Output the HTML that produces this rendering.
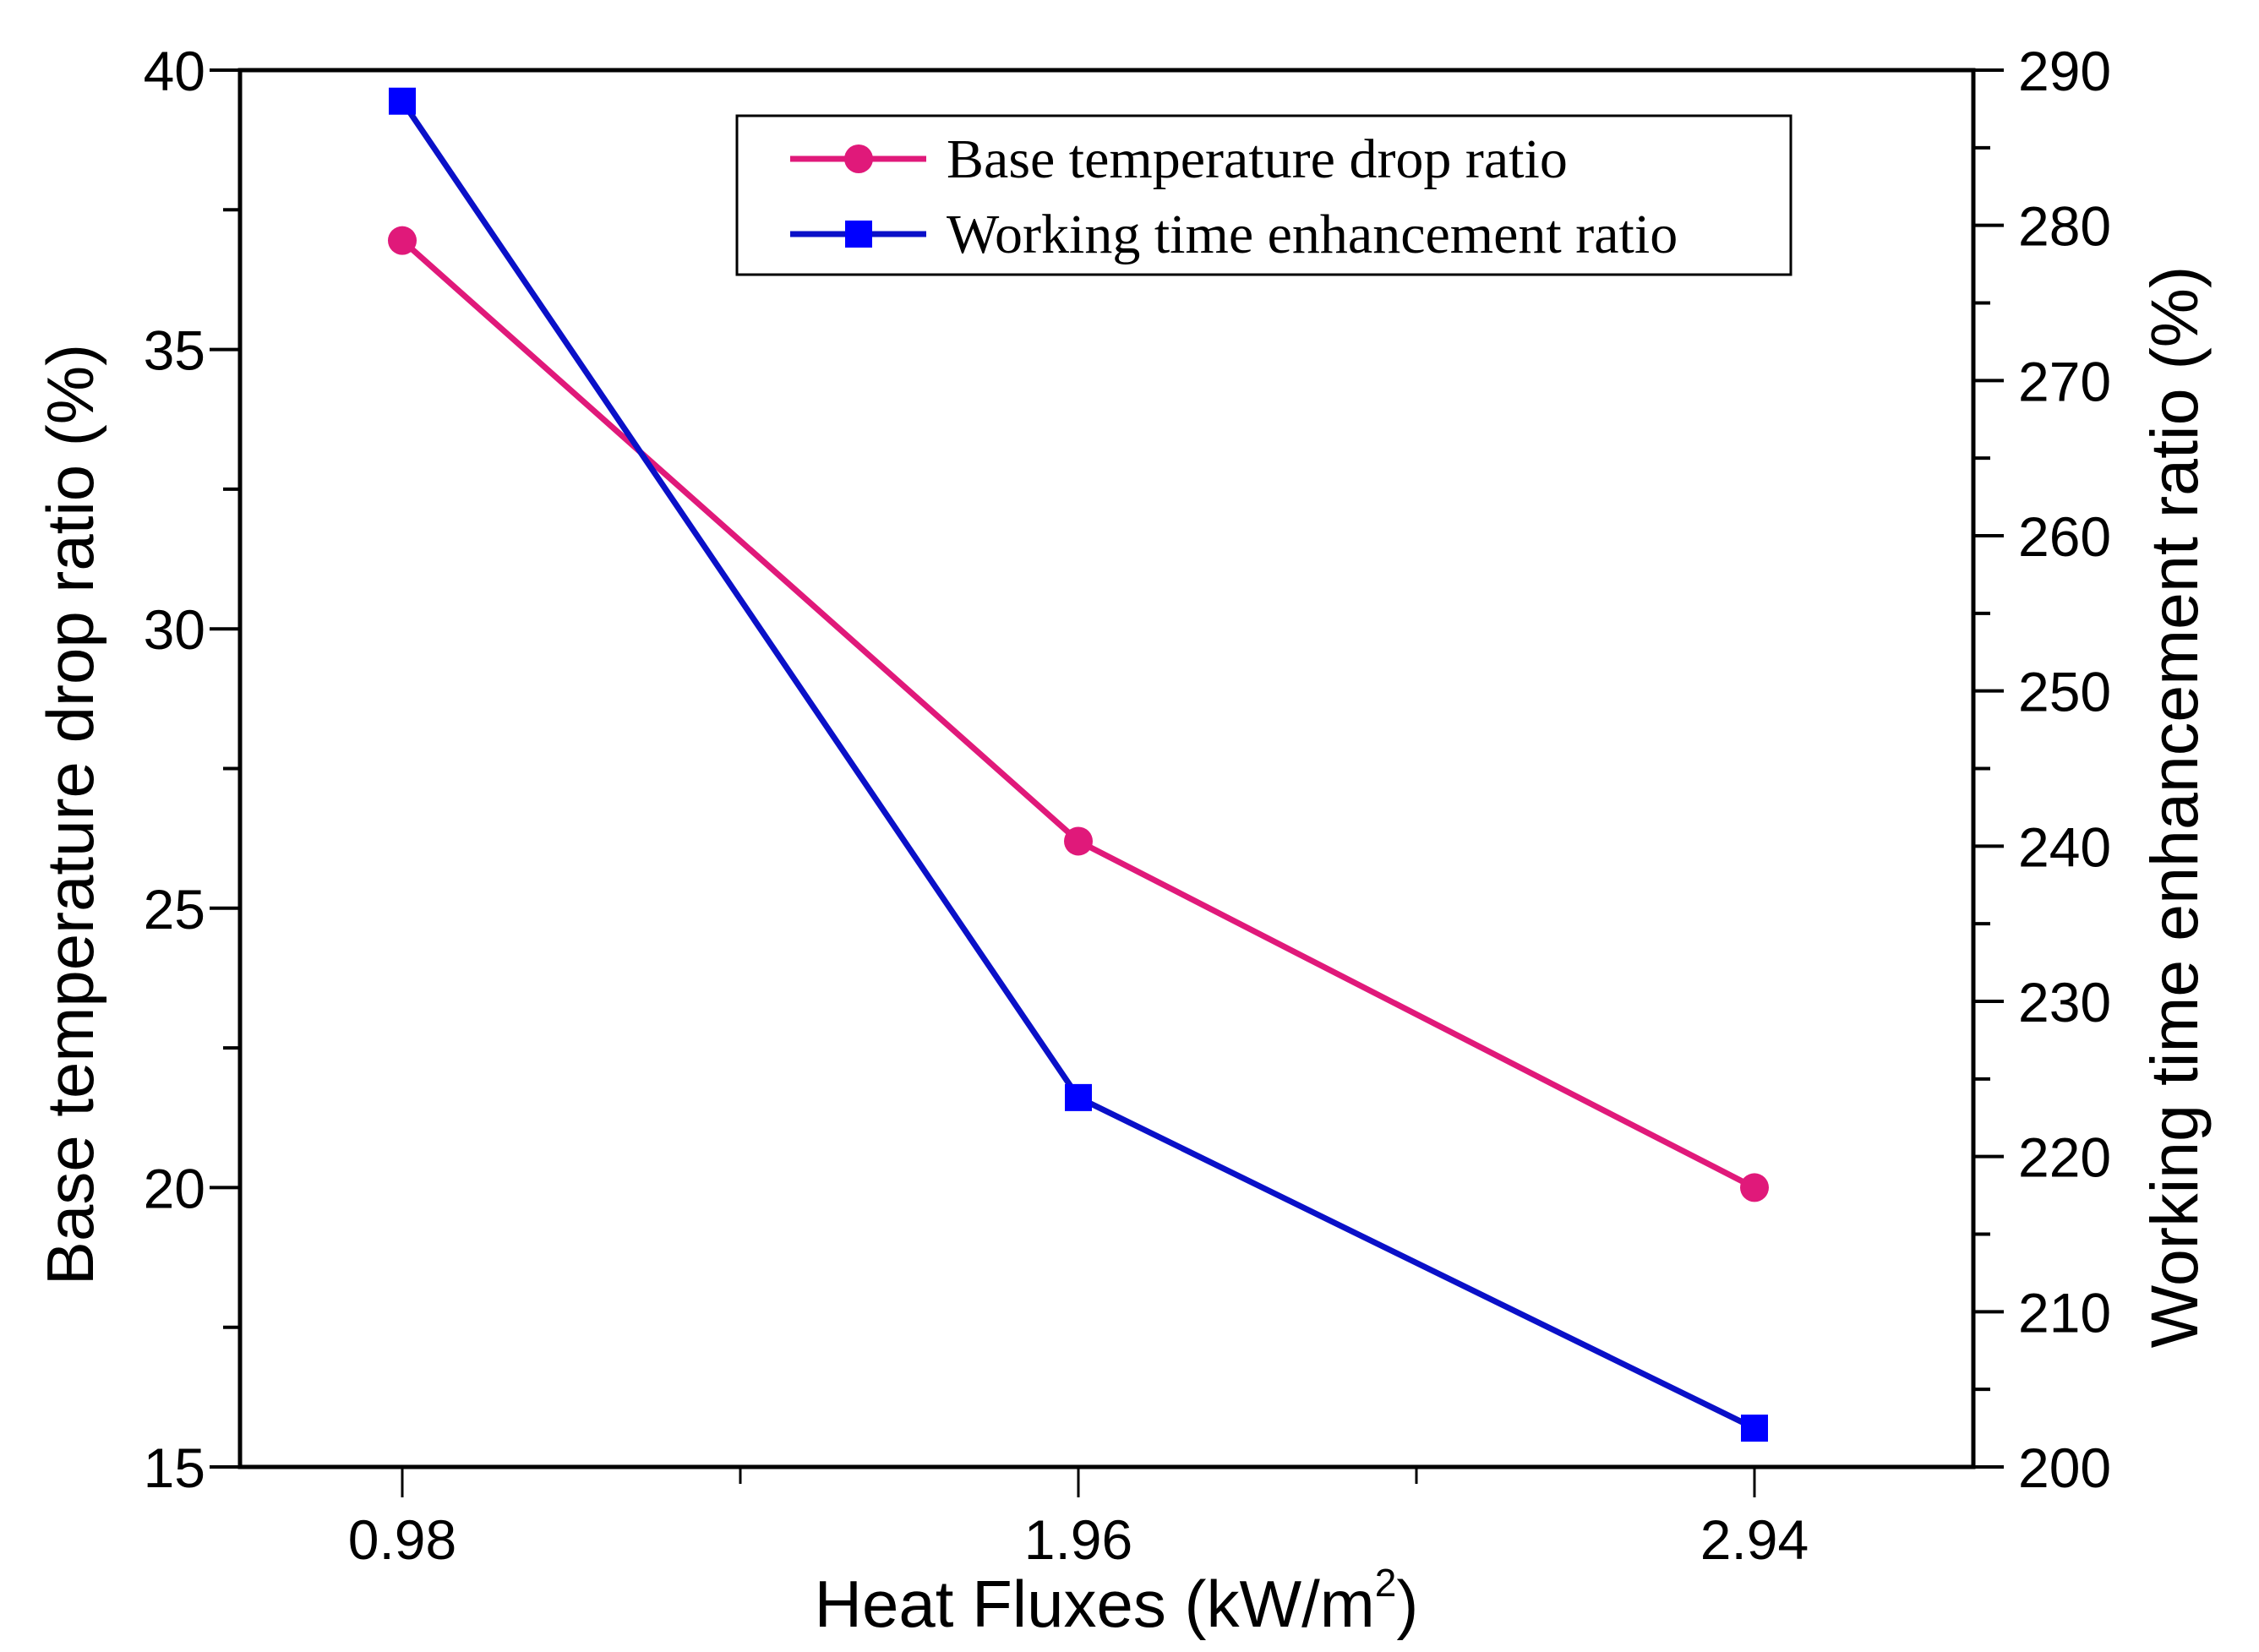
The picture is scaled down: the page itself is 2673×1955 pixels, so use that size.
<!DOCTYPE html>
<html><head><meta charset="utf-8"><style>
html,body{margin:0;padding:0;background:#fff;}
svg{display:block;}
text{font-family:"Liberation Sans",sans-serif;fill:#000;}
</style></head><body>
<svg id="chart" width="2673" height="1955" viewBox="0 0 2673 1955">
<g id="axes"></g>
<g id="series"></g>
<g id="legend">
  <rect x="872" y="137" width="1247" height="188" fill="#fff" stroke="#000" stroke-width="3"/>
  <line x1="935" y1="188" x2="1096" y2="188" stroke="#e0197a" stroke-width="7"/>
  <circle cx="1016" cy="188" r="17" fill="#e0197a"/>
  <text x="1120" y="210" font-size="66" style="font-family:'Liberation Serif',serif">Base temperature drop ratio</text>
  <line x1="935" y1="277" x2="1096" y2="277" stroke="#0a10c8" stroke-width="7"/>
  <rect x="1000" y="261" width="32" height="32" fill="#0000ff"/>
  <text x="1120" y="299" font-size="66" style="font-family:'Liberation Serif',serif">Working time enhancement ratio</text>
</g>
<text x="1321" y="1925" font-size="78" text-anchor="middle">Heat Fluxes (kW/m<tspan dy="-36" font-size="46">2</tspan><tspan dy="36">)</tspan></text>
<text transform="translate(110,964) rotate(-90)" font-size="78" text-anchor="middle">Base temperature drop ratio (%)</text>
<text transform="translate(2600,955) rotate(-90)" font-size="79" text-anchor="middle">Working time enhancement ratio (%)</text>
</svg>
<script>
const categories = ["0.98", "1.96", "2.94"];
const baseTempDrop = [36.95, 26.2, 20.0];
const workingTimeEnh = [288.0, 223.8, 202.5];
const leftTicks = [15, 20, 25, 30, 35, 40];
const rightTicks = [200, 210, 220, 230, 240, 250, 260, 270, 280, 290];

const NS = "http://www.w3.org/2000/svg";
const L = 284, R = 2335, T = 83, B = 1736;
const xs = i => 476 + i * 800;
const yL = v => B - (v - 15) / 25 * (B - T);
const yR = v => B - (v - 200) / 90 * (B - T);
function mk(tag, attrs, parent) {
  const e = document.createElementNS(NS, tag);
  for (const k in attrs) e.setAttribute(k, attrs[k]);
  parent.appendChild(e);
  return e;
}
const axes = document.getElementById("axes");
const frame = mk("rect", {x: L, y: T, width: R - L, height: B - T, fill: "none", stroke: "#000", "stroke-width": 5}, axes);


for (let v = 15; v <= 40; v += 2.5) {
  const major = v % 5 === 0;
  const t = mk("line", {x1: L, x2: L - (major ? 36 : 20), y1: yL(v), y2: yL(v), stroke: "#000", "stroke-width": 4}, axes);
  
  
}
leftTicks.forEach(v => {
  const t = mk("text", {x: 243, y: yL(v) + 24, "font-size": 66, "text-anchor": "end"}, axes);
  t.textContent = v;
  
  
});
for (let v = 200; v <= 290; v += 5) {
  const major = v % 10 === 0;
  const t = mk("line", {x1: R, x2: R + (major ? 36 : 20), y1: yR(v), y2: yR(v), stroke: "#000", "stroke-width": 4}, axes);
  
  
}
rightTicks.forEach(v => {
  const t = mk("text", {x: 2388, y: yR(v) + 24, "font-size": 66}, axes);
  t.textContent = v;
  
  
});
for (let i = 0; i <= 4; i++) {
  const x = 476 + i * 400;
  const major = i % 2 === 0;
  const t = mk("line", {x1: x, x2: x, y1: B, y2: B + (major ? 36 : 20), stroke: "#000", "stroke-width": 3}, axes);
  
  
}
categories.forEach((c, i) => {
  const t = mk("text", {x: xs(i), y: 1845, "font-size": 66, "text-anchor": "middle"}, axes);
  t.textContent = c;
  
  
});
const series = document.getElementById("series");
const pinkPts = baseTempDrop.map((v, i) => xs(i) + "," + yL(v)).join(" ");
const pl = mk("polyline", {points: pinkPts, fill: "none", stroke: "#e0197a", "stroke-width": 7}, series);


const bluePts = workingTimeEnh.map((v, i) => xs(i) + "," + yR(v)).join(" ");
const bl = mk("polyline", {points: bluePts, fill: "none", stroke: "#0a10c8", "stroke-width": 7}, series);


baseTempDrop.forEach((v, i) => {
  const c = mk("circle", {cx: xs(i), cy: yL(v), r: 17, fill: "#e0197a"}, series);
  
  
});
workingTimeEnh.forEach((v, i) => {
  const s = mk("rect", {x: xs(i) - 16, y: yR(v) - 16, width: 32, height: 32, fill: "#0000ff"}, series);
  
  
});
</script>
</body></html>
